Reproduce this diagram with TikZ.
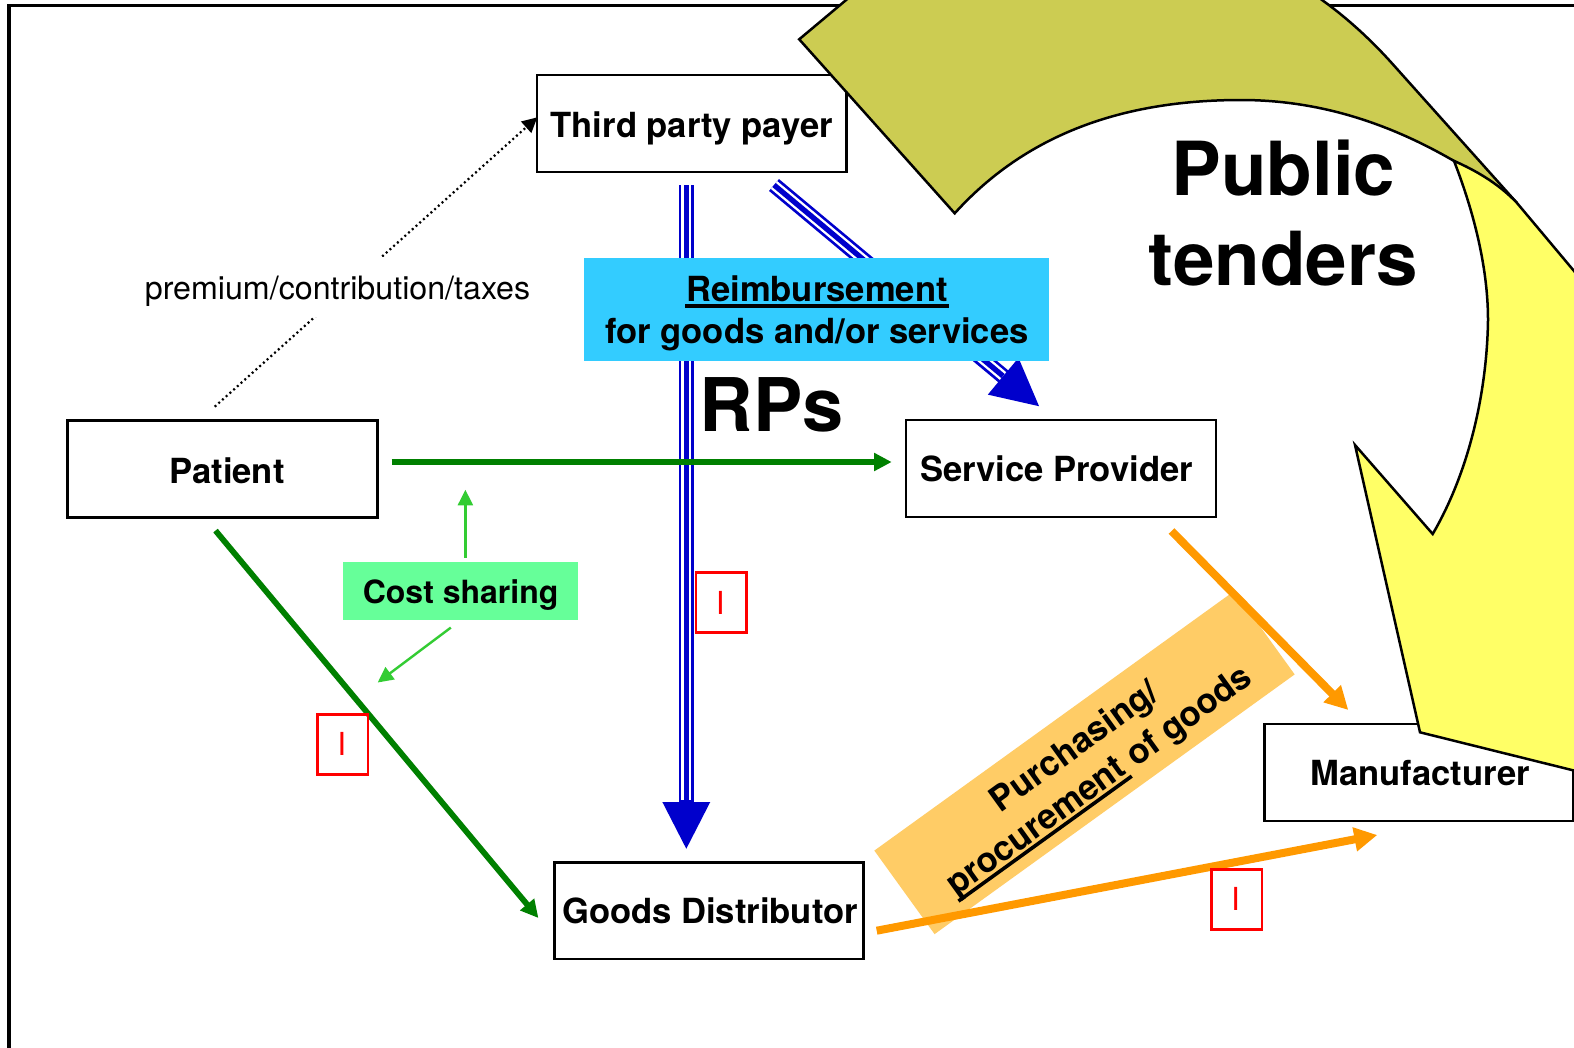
\documentclass[tikz,border=0pt]{standalone}
\usepackage{fontspec}
\setmainfont{TeX Gyre Heros}
\usetikzlibrary{arrows.meta}
\definecolor{cblue}{HTML}{0000CC}
\definecolor{cgreen}{HTML}{008000}
\definecolor{clight}{HTML}{33CC33}
\definecolor{corange}{HTML}{FF9900}
\definecolor{csky}{HTML}{33CCFF}
\definecolor{cmint}{HTML}{66FF99}
\definecolor{cpeach}{HTML}{FFCC66}
\definecolor{ckhaki}{HTML}{CCCC52}
\definecolor{cyell}{HTML}{FFFF66}
\newcommand\myul[1]{\setbox0=\hbox{#1}\rlap{\kern-1pt\raisebox{-6.3pt}{\rule{\dimexpr\wd0+2pt}{3.6pt}}}\box0 }
\tikzset{
  bodyfont/.style={font=\fontsize{34.6}{42}\selectfont\bfseries},
  actor/.style={draw=black,line width=2.8pt,fill=white,inner sep=0pt,minimum width=310pt,minimum height=97pt,text height=28pt,text depth=0pt,bodyfont},
  redbox/.style={draw=red,line width=2.6pt,fill=none,inner sep=0pt,minimum width=50.5pt,minimum height=60pt,text=red,font=\fontsize{31.7}{32}\selectfont,text height=22.7pt,text depth=0pt},
  blueouter/.style={draw=cblue,line width=15.5pt},
  bluegap/.style={draw=white,line width=10pt},
  bluecore/.style={draw=cblue,line width=5.3pt},
  greenarrow/.style={draw=cgreen,line width=5.8pt,-{Triangle[length=17.7pt,width=17.3pt]}},
  lightarrow/.style={draw=clight,line width=2.4pt,-{Triangle[length=15.5pt,width=15pt]}},
  orangearrow/.style={draw=corange,line width=8pt,-{Triangle[length=23pt,width=23pt]}},
  outline/.style={draw=black,line width=2.5pt,line join=miter}
}
\begin{document}
\begin{tikzpicture}[x=1pt,y=-1pt]
\useasboundingbox (0,0) rectangle (1574,1047);
\clip (0,0) rectangle (1574,1047);
\fill[white] (0,0) rectangle (1574,1047);
% frame
\draw[black,line width=3.5pt] (9.2,1060) -- (9.2,5.7) -- (1590,5.7);
% coordinates
\coordinate (vs) at (686.3,185);
\coordinate (vb) at (686.3,800);
\coordinate (vt) at (686.3,850);
\coordinate (ds) at (774,185);
\coordinate (db) at (1003,376);
\coordinate (dt) at (1040,407);
\coordinate (gs) at (391.5,462);
\coordinate (gt) at (891.7,462);
\coordinate (hs) at (215.5,530.6);
\coordinate (ht) at (538.4,918);
\coordinate (us) at (465.4,557.8);
\coordinate (ut) at (465.4,489.8);
\coordinate (ls) at (450.8,627.6);
\coordinate (lt) at (377.7,682.5);
\coordinate (os) at (1171.5,531);
\coordinate (ot) at (1348.3,710);
\coordinate (ps) at (876.7,930.7);
\coordinate (pt) at (1377.3,835);
\coordinate (ds1) at (214.7,406.7);
\coordinate (dt1) at (537.3,117.3);
% nodes
\node[actor,minimum width=309.5pt] (third) at (691.8,123.5) {Third party payer};
\node[actor] (patient) at (222.5,469) {\kern9pt Patient};
\node[actor,text height=26pt] (service) at (1061,468.5) {\kern-9pt Service Provider};
\node[actor,text height=26pt,minimum width=309pt,minimum height=96.5pt] (goods) at (709,910.7) {\kern2pt Goods Distributor};
\node[actor,minimum width=308.7pt,text height=25pt] (manu) at (1418.6,772.5) {\kern3pt Manufacturer};
% peach label
\node[fill=cpeach,rotate=35.8,inner sep=0pt,minimum width=444pt,minimum height=103pt] (purchbox) at (1084.5,762.5) {};
\node[rotate=35.8,inner sep=0pt,align=center,bodyfont] (purch) at (1088,765) {Purchasing/\\\myul{procurement} of goods};
% blue connectors
\draw[blueouter,-{Triangle[length=48pt,width=44pt]}] (vs) -- (vt);
\draw[bluegap] (vs) -- (vb);
\draw[bluecore] (vs) -- (vb);
\draw[blueouter,-{Triangle[length=48pt,width=44pt]}] (ds) -- (dt);
\draw[bluegap] (ds) -- (db);
\draw[bluecore] (ds) -- (db);
% green and orange connectors
\draw[greenarrow] (gs) -- (gt);
\draw[greenarrow] (hs) -- (ht);
\draw[lightarrow] (us) -- (ut);
\draw[lightarrow] (ls) -- (lt);
\draw[orangearrow] (os) -- (ot);
\draw[orangearrow] (ps) -- (pt);
% dotted connector
\draw[black,line width=2.2pt,dash pattern=on 2pt off 3pt,-{Triangle[length=15pt,width=15pt,sep=0pt]}] (ds1) -- (dt1);
\node[fill=white,inner sep=0pt,minimum width=386pt,minimum height=60pt,font=\fontsize{32.2}{38}\selectfont,text height=24.6pt,text depth=0pt] (prem) at (337.5,286.7) {premium/contribution/taxes};
% labels with fill
\node[fill=csky,inner sep=0pt,minimum width=465pt,minimum height=103pt] (reimbbox) at (816.5,309.5) {};
\node[inner sep=0pt,align=center,bodyfont] (reimb) at (817,313.5) {\myul{Reimbursement}\\for goods and/or services};
\node[fill=cmint,inner sep=0pt,minimum width=235.3pt,minimum height=58pt,font=\fontsize{32}{38}\selectfont\bfseries,text height=26pt,text depth=1.4pt] (cost) at (460.6,591) {Cost sharing};
% red boxes
\node[redbox] (r1) at (721.3,602.7) {\kern-2pt I};
\node[redbox] (r2) at (342.8,744.6) {\kern-2pt I};
\node[redbox] (r3) at (1236.6,899.2) {\kern-2pt I};
% big curved arrow
\draw[outline,fill=ckhaki] (954.7,213.3) -- (799.2,39.3) -- (870,-20) -- (1300,-20) -- (1322,0)
  .. controls (1350,20) and (1375,44) .. (1395,66.7) -- (1517,203)
  .. controls (1420,130) and (1330,100) .. (1241,100)
  .. controls (1130,100) and (1030,130) .. (954.7,213.3) -- cycle;
\draw[outline,fill=cyell] (1454,160.9)
  .. controls (1474.7,170) and (1498,183) .. (1517,203)
  -- (1600,302) -- (1600,777) -- (1420,732.3) -- (1355,445) -- (1432.7,534)
  .. controls (1470,470) and (1487,390) .. (1488,320)
  .. controls (1488,270) and (1475,215) .. (1454,160.9) -- cycle;
% big texts
\node[inner sep=0pt,align=center,font=\fontsize{74.6}{90}\selectfont\bfseries] (public) at (1283.5,213) {Public\\tenders};
\node[inner sep=0pt,anchor=base west,font=\fontsize{74}{80}\selectfont\bfseries] (rps) at (699.5,431.5) {RPs};
\end{tikzpicture}
\end{document}
